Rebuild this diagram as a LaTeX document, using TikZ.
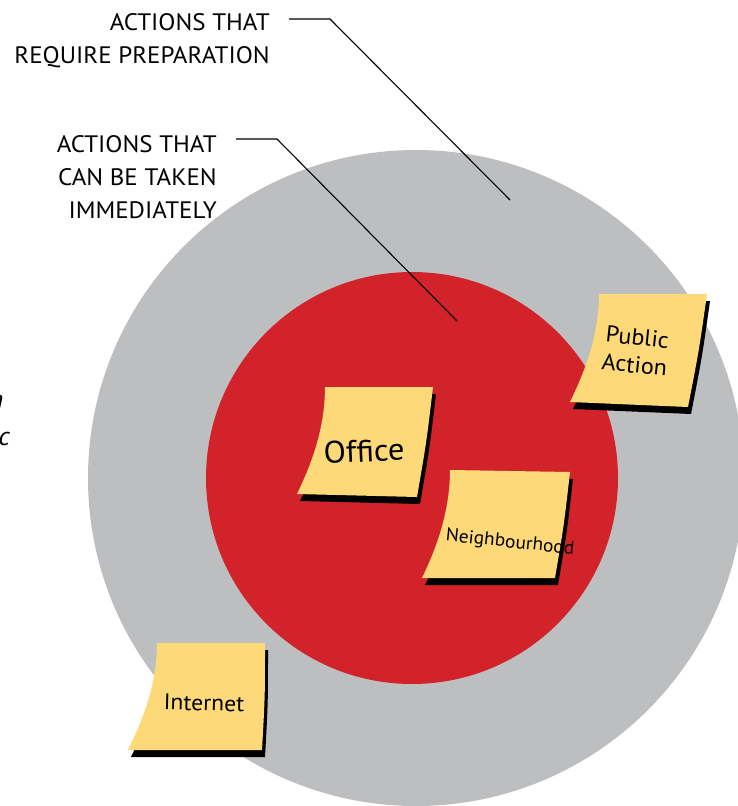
\documentclass[tikz,border=0pt]{standalone}
\usepackage{fontspec}
\setmainfont{PT Sans}[FakeStretch=1.05]
\usetikzlibrary{calc}
\definecolor{ringgray}{RGB}{189,190,192}
\definecolor{corered}{RGB}{210,35,42}
\definecolor{noteyellow}{RGB}{253,217,121}
% sticky note outline: TL, TR, BR, BL (image pixel coordinates)
\newcommand\notepath[8]{(#1,#2) -- (#3,#4) .. controls ({(#3+#5)/2+1.5},{(#4+#6)/2}) .. (#5,#6) -- (#7,#8) .. controls ({#7+12},{#8-25}) and ({#1},{#2+45}) .. (#1,#2) -- cycle}
\newcommand\stickynote[8]{%
  \fill[black,shift={(3,7)}] \notepath{#1}{#2}{#3}{#4}{#5}{#6}{#7}{#8};
  \fill[noteyellow] \notepath{#1}{#2}{#3}{#4}{#5}{#6}{#7}{#8};}
\tikzset{
  notetext/.style={inner sep=0pt, align=center, text=black},
  caption/.style={inner sep=0pt, align=right, font=\fontsize{23.8}{33}\selectfont},
  leader/.style={draw=black, line width=1.1pt},
}
\begin{document}
\begin{tikzpicture}[x=1pt,y=-1pt]
\useasboundingbox (0,0) rectangle (738,806);
\begin{scope}
  \clip (0,0) rectangle (738,806);
  \fill[ringgray] (416,478) circle[radius=328];
\end{scope}
\fill[corered] (412,478) circle[radius=206];

% cut-off fragments at the left edge
\node[anchor=base east, inner sep=0pt, font=\fontsize{26}{30}\selectfont\itshape] (fragn) at (3.5,408) {n};
\node[anchor=base east, inner sep=0pt, font=\fontsize{26}{30}\selectfont\itshape] (fragc) at (10,445) {c};

% sticky notes
\stickynote{325}{387}{433}{387}{417}{497}{297}{494}
\node[notetext, rotate=2.5, font=\fontsize{31}{34}\selectfont] (office) at (364,451) {Office};

\stickynote{599}{294}{707}{294}{688}{407}{570}{402}
\node[notetext, rotate=-6, font=\fontsize{23}{28}\selectfont] (public) at (636,351) {Public\\Action};

\stickynote{450}{470}{570}{472}{555}{578}{422}{578}
\node[notetext, rotate=-6, font=\fontsize{18.5}{21}\selectfont] (neigh) at (510,543) {Neighbourhood};

\stickynote{157}{643}{265}{643}{262}{750}{128}{750}
\node[notetext, rotate=-1.5, font=\fontsize{22.5}{26}\selectfont] (internet) at (204,703) {Internet};

% captions
\node[caption, anchor=east] (prep) at (270,41) {ACTIONS THAT\\REQUIRE PREPARATION};
\node[caption, anchor=east] (immed) at (217,177) {ACTIONS THAT\\CAN BE TAKEN\\IMMEDIATELY};

\coordinate (prepstart) at (289,19);
\coordinate (prepbend) at (330,19);
\coordinate (prepend) at (510,200);
\coordinate (immstart) at (236,139);
\coordinate (immbend) at (277,139);
\coordinate (immend) at (457,321);
\draw[leader] (prepstart) -- (prepbend) -- (prepend);
\draw[leader] (immstart) -- (immbend) -- (immend);
\end{tikzpicture}
\end{document}
